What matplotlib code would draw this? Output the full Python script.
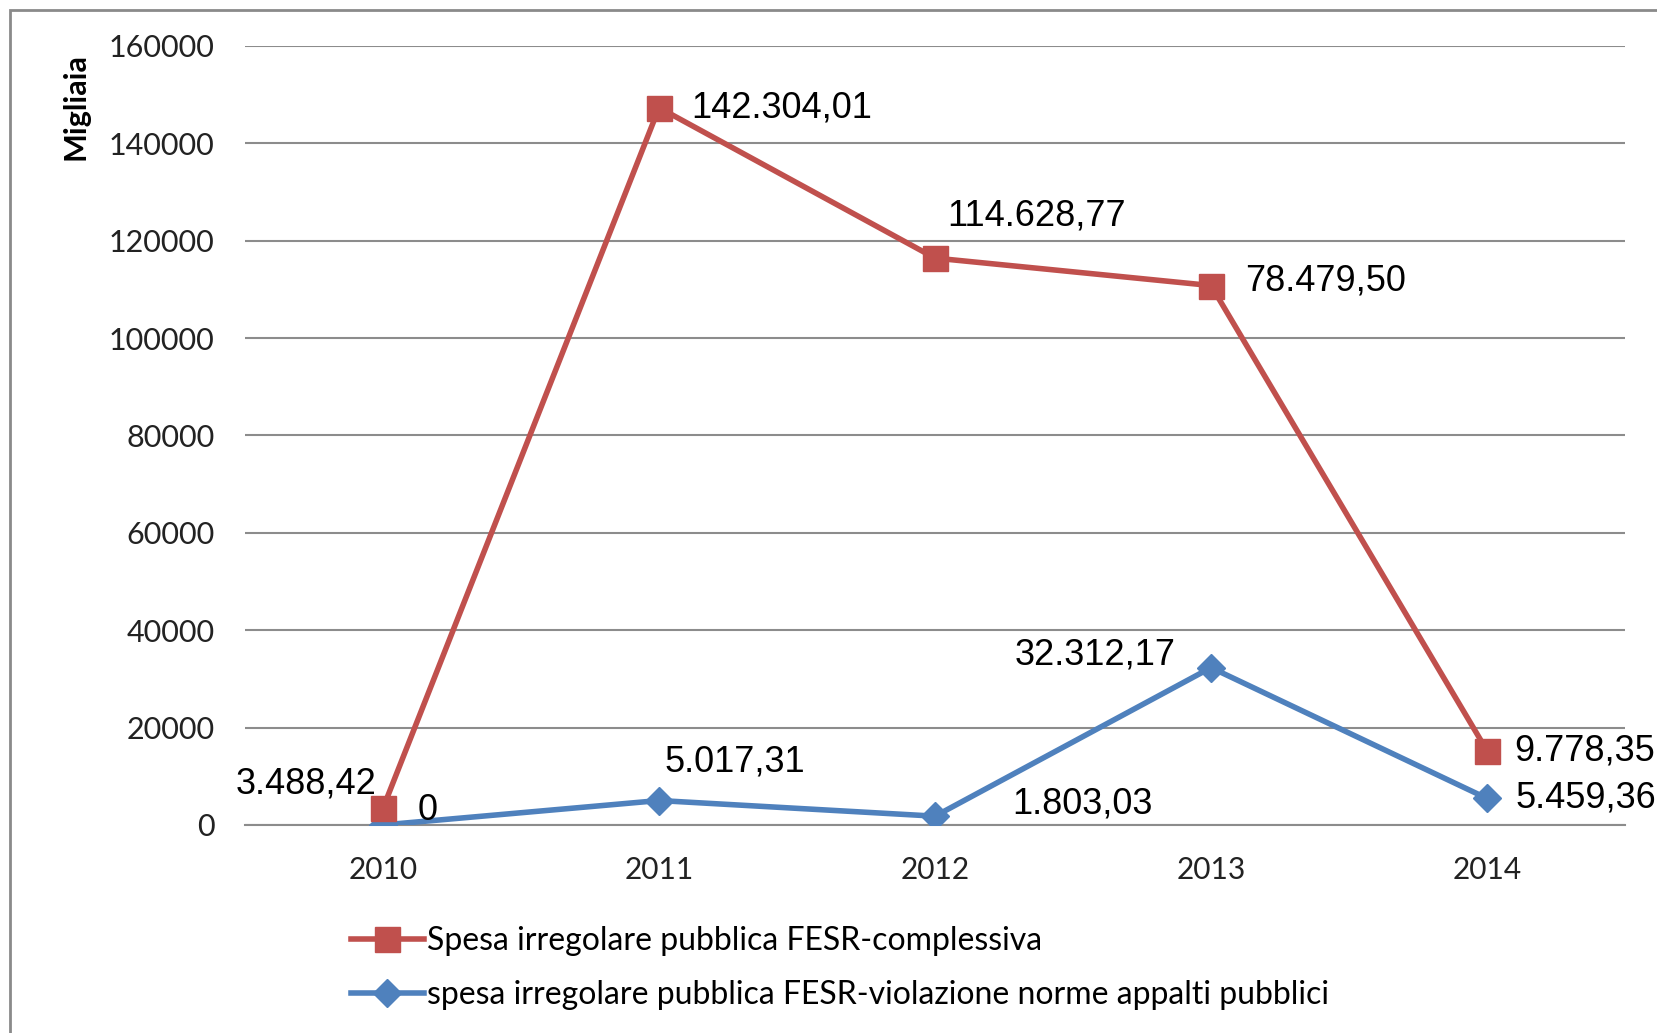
import numpy as np
import matplotlib.pyplot as plt
from matplotlib.patches import Rectangle

# dati
years = ["2010", "2011", "2012", "2013", "2014"]
complessiva = [3488.42, 142304.01, 114628.77, 78479.50, 9778.35]
appalti = [0, 5017.31, 1803.03, 32312.17, 5459.36]
labels_compl = ["3.488,42", "142.304,01", "114.628,77", "78.479,50", "9.778,35"]
labels_appalti = ["0", "5.017,31", "1.803,03", "32.312,17", "5.459,36"]
yticks = [0, 20000, 40000, 60000, 80000, 100000, 120000, 140000, 160000]

red = "#C0504D"
blue = "#4F81BD"
grid_col = "#8C8C8C"

fig = plt.figure(figsize=(16.57, 10.33), dpi=100)
ax = fig.add_axes([0.1479, 0.2014, 0.8328, 0.7541])

x = np.arange(len(years))
# grafico a linee in pila: la serie complessiva si somma sopra quella appalti
stacked = np.array(appalti) + np.array(complessiva)

ax.plot(x, appalti, color=blue, lw=4, marker="D", ms=14, zorder=3,
        label="spesa irregolare pubblica FESR-violazione norme appalti pubblici")
ax.plot(x, stacked, color=red, lw=4, marker="s", ms=18, zorder=4,
        label="Spesa irregolare pubblica FESR-complessiva")

ax.set_xlim(-0.5, len(years) - 0.5)
ax.set_ylim(0, 160000)
ax.set_yticks(yticks)
ax.set_yticklabels([str(v) for v in yticks], fontsize=22, family="Lato", color="#222222")
ax.set_xticks(x)
ax.set_xticklabels(years, fontsize=21.5, family="Lato", color="#222222")
ax.tick_params(axis="y", length=0, pad=22)
ax.tick_params(axis="x", length=0, pad=22)

for s in ["top", "right", "left"]:
    ax.spines[s].set_visible(False)
ax.spines["bottom"].set_color(grid_col)
ax.spines["bottom"].set_linewidth(1.5)
ax.yaxis.grid(True, color=grid_col, lw=1.5)
ax.set_axisbelow(True)

# etichette dati (offset in pixel)
off_compl = [(-7, 24, "right"), (32, 0, "left"), (12, 42, "left"), (34, 5, "left"), (27, 0, "left")]
off_app = [(35, 14, "left"), (76, 39, "center"), (77, 12, "left"), (-35, 13, "right"), (28, 0, "left")]
for i in range(len(years)):
    dx, dy, ha = off_compl[i]
    ax.annotate(labels_compl[i], (x[i], stacked[i]), xytext=(dx, dy), textcoords="offset pixels",
                ha=ha, va="center", fontsize=26, family="Liberation Sans", annotation_clip=False)
    dx, dy, ha = off_app[i]
    ax.annotate(labels_appalti[i], (x[i], appalti[i]), xytext=(dx, dy), textcoords="offset pixels",
                ha=ha, va="center", fontsize=26, family="Liberation Sans", annotation_clip=False)

fig.text(76 / 1657, 1 - 107 / 1033, "Migliaia", rotation=90, ha="center", va="center",
         fontsize=22, fontweight="bold", family="Lato")

# legenda
h, l = ax.get_legend_handles_labels()
fig.legend(h[::-1], l[::-1], loc="upper left", bbox_to_anchor=(322 / 1657, 1 - 897 / 1033),
           frameon=False, handlelength=2.3, handletextpad=0.1,
           labelspacing=0.75, prop={"family": "Lato", "size": 23})

# bordo del grafico
fig.patches.append(Rectangle((10 / 1657, -0.1), 1.2, 1 - 10 / 1033 + 0.1, transform=fig.transFigure,
                             fill=False, edgecolor="#8A8A8A", lw=2))

fig.savefig("out.png", dpi=100)
